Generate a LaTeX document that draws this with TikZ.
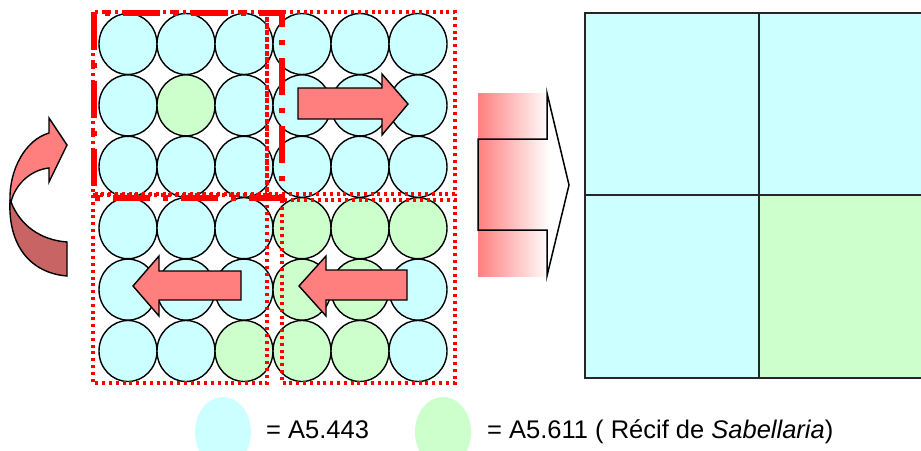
\documentclass[tikz,border=0pt]{standalone}
\usepackage{fontspec}
\setmainfont{Liberation Sans}
\usetikzlibrary{shapes.geometric}
\definecolor{cb}{HTML}{CCFFFF}
\definecolor{cg}{HTML}{CCFFCC}
\definecolor{salmon}{HTML}{FF7F7F}
\definecolor{darksalmon}{HTML}{C96464}
\definecolor{lred}{HTML}{FF0000}
\tikzset{
  cell/.style={ellipse,draw=black,line width=1.4pt,inner sep=0pt,minimum width=58pt,minimum height=61pt},
  dotline/.style={draw=lred,line width=3.4pt,dash pattern=on 3pt off 3.8pt},
  dashdotline/.style={draw=lred,line width=5.5pt,dash pattern=on 37pt off 13pt on 5pt off 13pt},
  blockarrow/.style={fill=salmon,draw=black,line width=1.4pt,line join=miter},
  legenddot/.style={ellipse,inner sep=0pt,minimum width=56pt,minimum height=70pt},
  legendtext/.style={anchor=base west,inner sep=0pt,font=\fontsize{25.5}{30}\selectfont},
  panel/.style={draw=black!85,line width=1.8pt}
}
\begin{document}
\begin{tikzpicture}[x=1pt,y=-1pt]
\useasboundingbox (0,0) rectangle (921,450);
\clip (0,0) rectangle (921,450);
% circles grid
\foreach \r/\row in {1/{cb,cb,cb,cb,cb,cb},2/{cb,cg,cb,cb,cb,cb},3/{cb,cb,cb,cb,cb,cb},4/{cb,cb,cb,cg,cg,cg},5/{cb,cb,cb,cg,cg,cb},6/{cb,cb,cg,cg,cg,cb}}{
  \foreach \col [count=\c] in \row {
    \node[cell,fill=\col] (c-\r-\c) at ({128+58*(\c-1)},{44+61.4*(\r-1)}) {};
  }
}
% dotted quadrant frames
\draw[dotline] (93,12) rectangle (267,194);
\draw[dotline] (267,12) rectangle (455,194);
\draw[dotline] (93,195) rectangle (267,383);
\draw[dotline] (282,200) rectangle (455,383);
% moving window
\draw[dashdotline] (94,13) rectangle (282,198);
% block arrows
\draw[blockarrow] (298,88) -- (382,88) -- (382,74) -- (408,104) -- (382,135) -- (382,119) -- (298,119) -- cycle;
\draw[blockarrow] (241,271) -- (159,271) -- (159,256) -- (133,286) -- (159,316) -- (159,300) -- (241,300) -- cycle;
\draw[blockarrow] (407,270) -- (326,270) -- (326,256) -- (299,286) -- (326,316) -- (326,300) -- (407,300) -- cycle;
% curved arrow
\draw[fill=salmon,draw=black,line width=1.4pt,line join=miter]
  (10,201) .. controls (9,170) and (25,140) .. (49,133) -- (49,118) -- (67,145) -- (49,182) -- (49,168)
  .. controls (30,170) and (15,185) .. (11,202) -- cycle;
\draw[fill=darksalmon,draw=black,line width=1.4pt,line join=miter]
  (10,201) .. controls (8,245) and (30,273) .. (67,276) -- (67,242)
  .. controls (40,240) and (20,225) .. (11,202) -- cycle;
% gradient arrow
\shade[left color=salmon,right color=white] (478,93) rectangle (549,276);
\draw[black,line width=1.5pt,line join=miter] (478,139) -- (547,139) -- (547,93) -- (569,185) -- (547,276) -- (547,230) -- (478,230) -- cycle;
% result panel
\fill[cb] (585,13) rectangle (759,195);
\fill[cb] (759,13) rectangle (933,195);
\fill[cb] (585,195) rectangle (759,378);
\fill[cg] (759,195) rectangle (933,378);
\draw[panel] (585,13) rectangle (933,378);
\draw[panel] (759,13) -- (759,378);
\draw[panel] (585,195) -- (933,195);
% legend
\node[legenddot,fill=cb] (lb) at (223,432) {};
\node[legendtext] (tb) at (266,438) {= A5.443};
\node[legenddot,fill=cg] (lg) at (443,432) {};
\node[legendtext] (tg) at (487,438) {= A5.611 ( Récif de \textit{Sabellaria})};
\end{tikzpicture}
\end{document}
